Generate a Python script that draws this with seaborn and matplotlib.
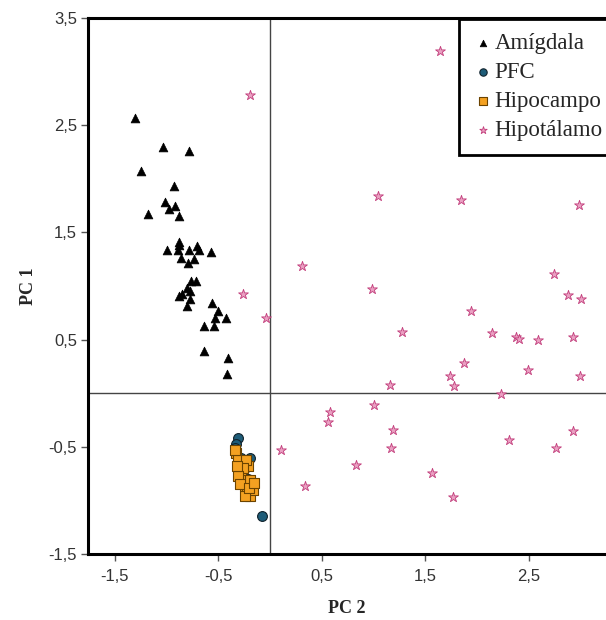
import numpy as np
import pandas as pd
import matplotlib
matplotlib.use("Agg")
import matplotlib.pyplot as plt
import seaborn as sns

# ---------------- data ----------------
amig_pc2 = [-1.31, -1.04, -0.78, -1.25, -0.93, -1.02, -0.98, -0.92, -1.18, -0.88,
            -1.00, -0.88, -0.88, -0.89, -0.78, -0.71, -0.69, -0.57, -0.86, -0.74,
            -0.79, -0.76, -0.72, -0.80, -0.77, -0.88, -0.85, -0.77, -0.80, -0.56,
            -0.50, -0.53, -0.43, -0.64, -0.54, -0.64, -0.41, -0.42]
amig_pc1 = [2.57, 2.30, 2.26, 2.07, 1.93, 1.78, 1.72, 1.75, 1.67, 1.65,
            1.34, 1.41, 1.38, 1.34, 1.34, 1.37, 1.34, 1.32, 1.26, 1.25,
            1.21, 1.05, 1.05, 0.98, 0.95, 0.91, 0.93, 0.88, 0.81, 0.84,
            0.77, 0.70, 0.70, 0.63, 0.63, 0.39, 0.33, 0.18]

pfc_pc2 = [-0.31, -0.33, -0.34, -0.19, -0.08, -0.28, -0.24, -0.21]
pfc_pc1 = [-0.42, -0.47, -0.51, -0.60, -1.15, -0.60, -0.70, -0.80]

hipo_pc2 = [-0.33, -0.31, -0.29, -0.28, -0.26, -0.24, -0.22, -0.19, -0.17, -0.21,
            -0.23, -0.34, -0.26, -0.19, -0.31, -0.29, -0.24, -0.20, -0.16, -0.32]
hipo_pc1 = [-0.56, -0.62, -0.70, -0.75, -0.81, -0.87, -0.92, -0.96, -0.90, -0.68,
            -0.62, -0.53, -0.70, -0.81, -0.77, -0.85, -0.96, -0.88, -0.84, -0.68]

hipt_pc2 = [1.64, -0.19, 1.04, 1.84, 2.98, 0.31, 2.74, 0.98, 2.88, 3.00,
            -0.26, -0.04, 1.94, 1.27, 2.14, 2.38, 2.40, 2.59, 2.93, 1.87,
            2.49, 2.99, 1.16, 1.74, 1.78, 2.23, 1.00, 0.58, 0.56, 1.19,
            2.93, 2.31, 0.10, 1.17, 2.76, 0.83, 1.56, 0.34, 1.77]
hipt_pc1 = [3.19, 2.78, 1.84, 1.80, 1.76, 1.19, 1.11, 0.97, 0.92, 0.88,
            0.93, 0.70, 0.77, 0.57, 0.56, 0.52, 0.51, 0.50, 0.52, 0.28,
            0.22, 0.16, 0.08, 0.16, 0.07, -0.01, -0.11, -0.18, -0.27, -0.34,
            -0.35, -0.44, -0.53, -0.51, -0.51, -0.67, -0.74, -0.87, -0.97]

group_names = ["Amígdala", "PFC", "Hipocampo", "Hipotálamo"]

x_ticks = [-1.5, -0.5, 0.5, 1.5, 2.5]
x_tick_labels = ["-1,5", "-0,5", "0,5", "1,5", "2,5"]
y_ticks = [-1.5, -0.5, 0.5, 1.5, 2.5, 3.5]
y_tick_labels = ["-1,5", "-0,5", "0,5", "1,5", "2,5", "3,5"]

df = pd.concat([
    pd.DataFrame({"PC2": amig_pc2, "PC1": amig_pc1, "Region": group_names[0]}),
    pd.DataFrame({"PC2": pfc_pc2, "PC1": pfc_pc1, "Region": group_names[1]}),
    pd.DataFrame({"PC2": hipo_pc2, "PC1": hipo_pc1, "Region": group_names[2]}),
    pd.DataFrame({"PC2": hipt_pc2, "PC1": hipt_pc1, "Region": group_names[3]}),
], ignore_index=True)

# ---------------- style ----------------
sns.set_theme(style="white")
plt.rcParams["font.family"] = ["Liberation Sans", "DejaVu Sans"]

fig = plt.figure(figsize=(6.06, 6.20), dpi=100)
ax = fig.add_axes([88 / 606, 1 - 554 / 620, 1 - 88 / 606, (554 - 18) / 620])

styles = {
    "Amígdala": dict(marker="^", color="black", edgecolor="black", s=40, linewidth=0.5),
    "PFC": dict(marker="o", color="#1e5c78", edgecolor="#10222c", s=50, linewidth=0.8),
    "Hipocampo": dict(marker="s", color="#f4a121", edgecolor="#6b4300", s=48, linewidth=0.8),
    "Hipotálamo": dict(marker="*", color="#eaa0c2", edgecolor="#c23d7b", s=55, linewidth=0.6),
}

ax.axhline(0, color="#444444", linewidth=1.0, zorder=1)
ax.axvline(0, color="#444444", linewidth=1.0, zorder=1)

for name in group_names:
    sub = df[df["Region"] == name]
    st = styles[name]
    sns.scatterplot(data=sub, x="PC2", y="PC1", ax=ax, label=name,
                    marker=st["marker"], color=st["color"], edgecolor=st["edgecolor"],
                    s=st["s"], linewidth=st["linewidth"], zorder=3)

ax.set_xlim(-1.76, 3.245)
ax.set_ylim(-1.5, 3.5)

ax.set_xticks(x_ticks)
ax.set_xticklabels(x_tick_labels)
ax.set_yticks(y_ticks)
ax.set_yticklabels(y_tick_labels)
ax.tick_params(axis="both", direction="out", length=5, width=1, color="#555555",
               labelsize=12, labelcolor="#333333", pad=3)
ax.tick_params(axis="x", bottom=True, pad=6)
ax.tick_params(axis="y", left=True)

for side in ["left", "bottom", "top"]:
    ax.spines[side].set_color("black")
    ax.spines[side].set_linewidth(2.2)
ax.spines["right"].set_visible(False)

serif = ["Liberation Serif", "DejaVu Serif"]
ax.set_xlabel("PC 2", fontsize=13, fontweight="bold", family=serif, labelpad=11)
ax.set_ylabel("PC 1", fontsize=13, fontweight="bold", family=serif, labelpad=8)

leg = ax.legend(loc="upper left", bbox_to_anchor=(459 / 606, 1 - 19 / 620),
                bbox_transform=fig.transFigure, frameon=True, fancybox=False,
                framealpha=1, edgecolor="black", prop={"family": serif, "size": 16.5},
                handletextpad=0.05, borderpad=0.6, labelspacing=0.35,
                handlelength=0.9, markerscale=0.75, borderaxespad=0)
leg.get_frame().set_linewidth(2.0)

fig.savefig("out.png", dpi=100)
